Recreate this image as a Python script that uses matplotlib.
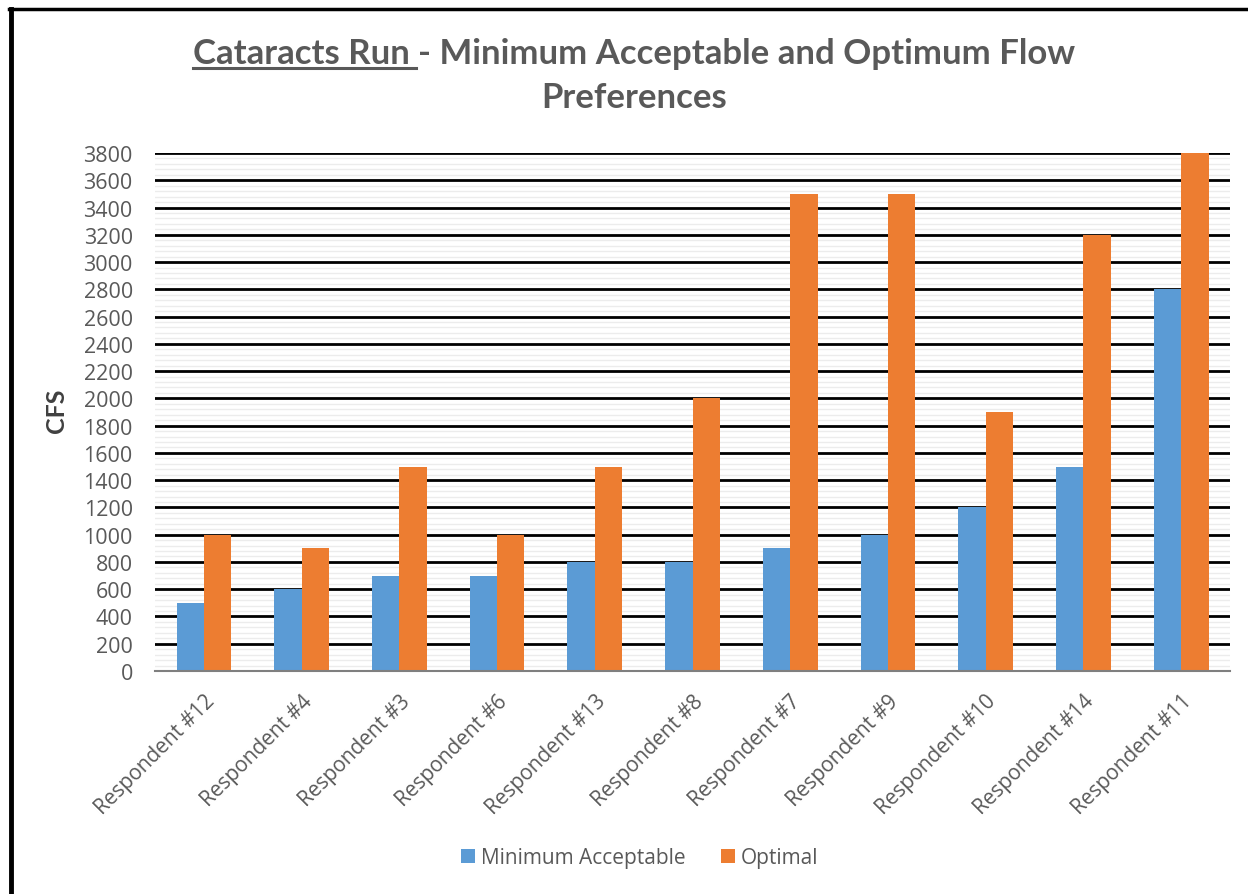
import matplotlib
matplotlib.use("Agg")
import matplotlib.pyplot as plt
from matplotlib.ticker import MultipleLocator
from matplotlib.lines import Line2D
import numpy as np

respondents = ["Respondent #12", "Respondent #4", "Respondent #3", "Respondent #6",
               "Respondent #13", "Respondent #8", "Respondent #7", "Respondent #9",
               "Respondent #10", "Respondent #14", "Respondent #11"]
minimum_acceptable = [500, 600, 700, 700, 800, 800, 900, 1000, 1200, 1500, 2800]
optimal = [1000, 900, 1500, 1000, 1500, 2000, 3500, 3500, 1900, 3200, 3800]

BLUE = "#5B9BD5"
ORANGE = "#ED7D31"
GREY = "#595959"

plt.rcParams["font.family"] = ["Open Sans", "DejaVu Sans"]

W, H = 1248, 895
fig = plt.figure(figsize=(W / 100, H / 100), dpi=100)
ax = fig.add_axes([155 / W, 1 - 672 / H, 1075 / W, 518 / H])

x = np.arange(len(respondents))
bw = 0.28
ax.bar(x - bw / 2, minimum_acceptable, bw, color=BLUE, label="Minimum Acceptable", zorder=3)
ax.bar(x + bw / 2, optimal, bw, color=ORANGE, label="Optimal", zorder=3)

ax.set_xlim(-0.5, len(respondents) - 0.5)
ax.set_ylim(0, 3800)
ax.yaxis.set_major_locator(MultipleLocator(200))
ax.yaxis.set_minor_locator(MultipleLocator(40))
ax.grid(axis="y", which="major", color="black", lw=2, zorder=1)
ax.grid(axis="y", which="minor", color="#ececec", lw=1, zorder=0)
for s in ["top", "right", "left"]:
    ax.spines[s].set_visible(False)
ax.spines["bottom"].set_color("#7f7f7f")
ax.spines["bottom"].set_linewidth(1.5)
ax.spines["bottom"].set_zorder(4)
ax.tick_params(axis="both", which="both", length=0)
ax.tick_params(axis="y", labelsize=15.5, labelcolor=GREY, pad=16)
ax.set_xticks(x)
ax.set_xticklabels(respondents, rotation=45, ha="right", rotation_mode="anchor",
                   fontsize=15, color=GREY)
ax.tick_params(axis="x", pad=14)
ax.set_ylabel("CFS", fontsize=18, fontweight="bold", color="#404040",
              family=["Lato", "DejaVu Sans"])
ax.yaxis.set_label_coords((68 - 155) / 1075, (672 - 411) / 518)

# title with underlined first part
fig.canvas.draw()
r = fig.canvas.get_renderer()
tkw = dict(fontsize=25, fontweight="bold", color=GREY, va="baseline",
           family=["Lato", "DejaVu Sans"])
part1, part2 = "Cataracts Run ", "- Minimum Acceptable and Optimum Flow"
tmp1 = fig.text(0, 0, part1, **tkw)
tmp2 = fig.text(0, 0, part2, **tkw)
w1 = tmp1.get_window_extent(r).width
w2 = tmp2.get_window_extent(r).width
tmp1.remove()
tmp2.remove()
cx, base1 = 634, H - 64
x0 = cx - (w1 + w2) / 2
fig.text(x0 / W, base1 / H, part1, **tkw)
fig.text((x0 + w1) / W, base1 / H, part2, **tkw)
fig.add_artist(Line2D([x0 / W, (x0 + w1 - 2) / W], [(base1 - 5) / H] * 2, color=GREY, lw=2.2))
fig.text(cx / W, (H - 108) / H, "Preferences", ha="center", **tkw)

# legend
ax.legend(loc="center", bbox_to_anchor=(640 / W, (H - 859) / H), bbox_transform=fig.transFigure,
          ncol=2, frameon=False, fontsize=15, labelcolor=GREY, handlelength=0.65,
          handleheight=0.65, handletextpad=0.3, columnspacing=1.7)

# chart frame (left and top edges)
fig.add_artist(Line2D([11 / W, 11 / W], [0, 1 - 10 / H], color="black", lw=3.5))
fig.add_artist(Line2D([9 / W, 1], [1 - 10 / H] * 2, color="black", lw=2.5))

fig.savefig("out.png", dpi=100)
